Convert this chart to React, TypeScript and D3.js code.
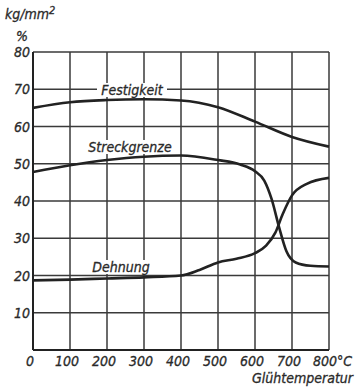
import React from "react";
import * as d3 from "d3";

const xTicks = [0, 100, 200, 300, 400, 500, 600, 700, 800];
const yTicks = [10, 20, 30, 40, 50, 60, 70, 80];
const festigkeitT = [0, 100, 200, 300, 400, 500, 600, 700, 800];
const festigkeitV = [65.0, 66.5, 67.1, 67.3, 67.0, 65.2, 61.3, 57.2, 54.6];
const streckT = [0, 100, 200, 300, 400, 500, 560, 600, 625, 645, 665, 685, 710, 750, 800];
const streckV = [47.8, 49.6, 51.0, 51.9, 52.2, 51.0, 49.8, 48.0, 45.5, 40.5, 33.0, 26.5, 23.5, 22.6, 22.4];
const dehnungT = [0, 100, 200, 300, 400, 450, 500, 550, 600, 630, 655, 675, 700, 740, 800];
const dehnungV = [18.7, 18.9, 19.2, 19.5, 20.0, 21.5, 23.5, 24.5, 26.0, 28.0, 31.5, 36.5, 41.5, 44.6, 46.2];

export default function App() {
  const left = 33, right = 329, top = 52, bottom = 350;
  const x = d3.scaleLinear().domain([0, 800]).range([left, right]);
  const y = d3.scaleLinear().domain([0, 80]).range([bottom, top]);
  const line = d3
    .line<[number, number]>()
    .x((d) => x(d[0]))
    .y((d) => y(d[1]))
    .curve(d3.curveMonotoneX);
  const zip = (a: number[], b: number[]) => a.map((t, i) => [t, b[i]] as [number, number]);
  const font = "'DejaVu Sans Condensed', 'DejaVu Sans', sans-serif";
  const grid = "#3a3a3a";
  const tc = "#2a2a2a";
  const common = { fontFamily: font, fontStyle: "italic", fill: tc, stroke: tc, strokeWidth: 0.3 } as any;
  return (
    <svg width={355} height={387} style={{ position: "absolute", left: 0, top: 0, background: "#fff" }}>
      {xTicks.map((t) => (
        <line key={"gx" + t} x1={x(t)} x2={x(t)} y1={top} y2={bottom} stroke={grid} strokeWidth={1.5} />
      ))}
      {[0, ...yTicks].map((t) => (
        <line key={"gy" + t} x1={left} x2={right} y1={y(t)} y2={y(t)} stroke={grid} strokeWidth={1.5} />
      ))}
      <line x1={left} x2={left} y1={top} y2={bottom} stroke="#222" strokeWidth={2} />
      <line x1={left} x2={right} y1={bottom} y2={bottom} stroke="#222" strokeWidth={2} />
      {yTicks.map((t) => (
        <text key={"yl" + t} x={left - 3} y={y(t) + 5} textAnchor="end" fontSize={14} {...common}>
          {t}
        </text>
      ))}
      {xTicks.map((t) =>
        t === 800 ? (
          <text key={"xl" + t} x={313} y={366} textAnchor="start" fontSize={14} {...common}>
            800°C
          </text>
        ) : (
          <text key={"xl" + t} x={x(t) - 3} y={366} textAnchor="middle" fontSize={14} {...common}>
            {t}
          </text>
        )
      )}
      <text x={5} y={19} fontSize={14} {...common}>
        kg/mm<tspan dy={-5} fontSize={11}>2</tspan>
      </text>
      <text x={16} y={41} fontSize={14} {...common}>%</text>
      <text x={353} y={383} textAnchor="end" fontSize={14} {...common}>Glühtemperatur</text>
      <path d={line(zip(festigkeitT, festigkeitV)) || ""} fill="none" stroke="#222" strokeWidth={2.6} />
      <path d={line(zip(streckT, streckV)) || ""} fill="none" stroke="#222" strokeWidth={2.6} />
      <path d={line(zip(dehnungT, dehnungV)) || ""} fill="none" stroke="#222" strokeWidth={2.6} />
      <rect x={97} y={83} width={70} height={14} fill="#fff" />
      <text x={132} y={95} textAnchor="middle" fontSize={14} {...common}>Festigkeit</text>
      <rect x={80} y={140} width={100} height={14} fill="#fff" />
      <text x={130} y={152} textAnchor="middle" fontSize={14} {...common}>Streckgrenze</text>
      <rect x={93} y={260} width={57} height={14} fill="#fff" />
      <text x={121} y={272} textAnchor="middle" fontSize={14} {...common}>Dehnung</text>
    </svg>
  );
}
